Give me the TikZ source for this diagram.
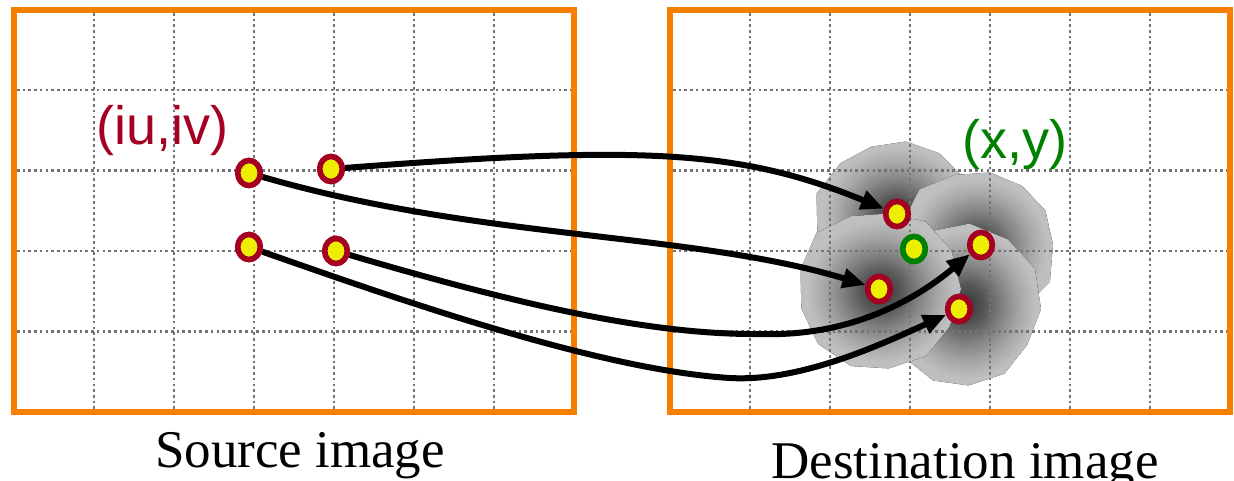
\documentclass[tikz,border=0pt]{standalone}
\usepackage{fontspec}
\setmainfont{Liberation Serif}
\newfontfamily\arialf{Liberation Sans}
\usetikzlibrary{arrows.meta,shapes.geometric}
\definecolor{frameor}{RGB}{245,128,0}
\definecolor{dred}{RGB}{165,0,33}
\definecolor{dgreen}{RGB}{0,128,0}
\definecolor{dotyel}{RGB}{238,238,0}
\definecolor{gridgray}{RGB}{115,115,115}
\definecolor{blobdark}{RGB}{55,55,55}
\definecolor{blobmidA}{RGB}{85,85,85}
\definecolor{blobmidB}{RGB}{130,130,130}
\definecolor{blobmidC}{RGB}{168,168,168}
\definecolor{bloblight}{RGB}{191,191,191}
\pgfdeclareradialshading{blobshade}{\pgfpoint{0bp}{0bp}}{color(0bp)=(blobdark); color(6bp)=(blobmidA); color(12bp)=(blobmidB); color(18bp)=(blobmidC); color(23bp)=(bloblight); color(50bp)=(bloblight)}
\tikzset{
  gridline/.style={draw=gridgray, line width=2.6pt, dash pattern=on 2.6pt off 3.1pt},
  framebox/.style={draw=frameor, line width=6pt},
  pix/.style={ellipse, draw=dred, fill=dotyel, line width=5.5pt, inner sep=0pt, minimum width=22.5pt, minimum height=25pt},
  gpix/.style={pix, draw=dgreen},
  maparrow/.style={draw=black, line width=6pt, -{Triangle[length=23pt,width=19pt]}},
  blobfill/.style={shading=blobshade, draw=none},
  caption/.style={font=\fontsize{53}{60}\selectfont, anchor=base, inner sep=0pt},
  coordlabel/.style={font=\arialf\fontsize{54}{60}\selectfont, anchor=base west, inner sep=0pt}
}
\begin{document}
\begin{tikzpicture}[x=1pt,y=-1pt]
\useasboundingbox (0,0) rectangle (1234,481);
% blobs (order: P1, P2, P4, P3)
\fill[blobfill, shift={(897,214)}] (0:80) -- (28:78) -- (55:82) -- (83:76) -- (110:80) -- (138:83) -- (166:82) -- (194:83) -- (222:76) -- (249:72) -- (277:73) -- (305:74) -- (332:76) -- cycle;
\fill[blobfill, shift={(981,245)}] (0:72) -- (28:78) -- (55:76) -- (83:78) -- (110:74) -- (138:80) -- (166:82) -- (194:82) -- (222:83) -- (249:75) -- (277:73) -- (305:72) -- (332:73) -- cycle;
\fill[blobfill, shift={(959,309)}] (0:82) -- (28:77) -- (55:79) -- (83:77) -- (110:76) -- (138:73) -- (166:70) -- (194:70) -- (222:75) -- (249:83) -- (277:86) -- (305:85) -- (332:86) -- cycle;
\fill[blobfill, shift={(879,289)}] (0:82) -- (28:80) -- (55:82) -- (83:80) -- (110:82) -- (138:82) -- (166:80) -- (194:81) -- (222:84) -- (249:78) -- (277:76) -- (305:82) -- (332:82) -- cycle;
% grids
\foreach \gx in {94,174,254,334,414,494} {\draw[gridline] (\gx,13) -- (\gx,409);}
\foreach \gx in {750,830,910,990,1070,1150} {\draw[gridline] (\gx,13) -- (\gx,409);}
\foreach \gy in {90,170.5,251,331.5} {
  \draw[gridline] (17,\gy) -- (571,\gy);
  \draw[gridline] (673,\gy) -- (1227,\gy);
}
% frames
\draw[framebox] (14,10) rectangle (574,412);
\draw[framebox] (670,10) rectangle (1230,412);
% pixels
\node[pix] (a) at (249,173) {};
\node[pix] (b) at (331,169) {};
\node[pix] (c) at (249,247) {};
\node[pix] (d) at (336,251) {};
\node[pix] (p1) at (897,214) {};
\node[pix] (p2) at (981,245) {};
\node[pix] (p3) at (879,289) {};
\node[pix] (p4) at (959,309) {};
\node[gpix] (g) at (914,249) {};
% arrows
\draw[maparrow] (b) .. controls (645,145) and (740,150) .. (p1);
\draw[maparrow] (a) .. controls (480,240) and (690,232) .. (p3);
\draw[maparrow] (d) .. controls (520,305) and (650,335) .. (760,334) .. controls (850,337) and (915,300) .. (p2);
\draw[maparrow] (c) .. controls (400,300) and (600,370) .. (730,378) .. controls (800,382) and (880,345) .. (p4);
% redraw pixels on top
\foreach \n/\px/\py in {a/249/173, b/331/169, c/249/247, d/336/251, p1/897/214, p2/981/245, p3/879/289, p4/959/309} {\node[pix] at (\px,\py) {};}
\node[gpix] at (914,249) {};
% labels
\node[coordlabel, text=dred] (iuiv) at (96,145) {(iu,iv)};
\node[coordlabel, text=dgreen] (xy) at (962,159) {(x,y)};
\node[caption] (src) at (300,467) {Source image};
\node[caption] (dst) at (965,478) {Destination image};
\end{tikzpicture}
\end{document}
